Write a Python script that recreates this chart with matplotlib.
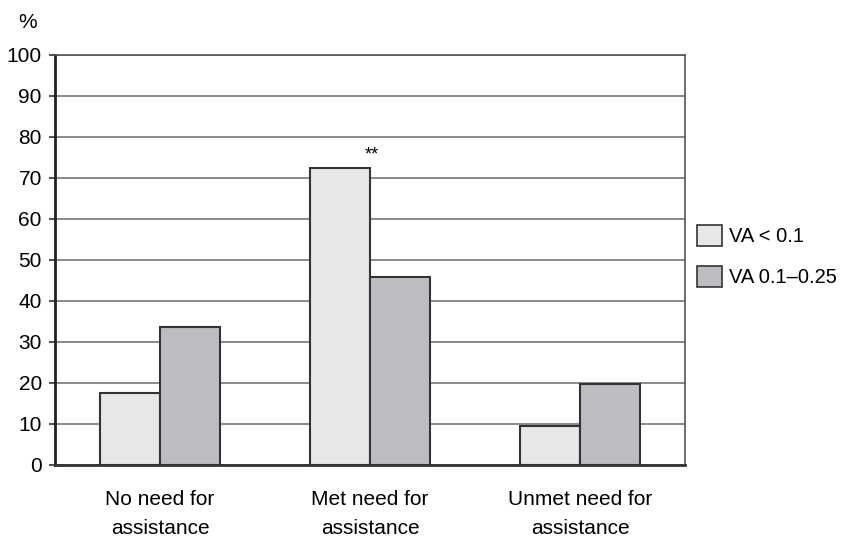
import numpy as np
import matplotlib
matplotlib.use('Agg')
import matplotlib.pyplot as plt
from matplotlib.patches import Patch

plt.rcParams['font.family'] = ['Liberation Sans', 'DejaVu Sans']

categories = ['No need for\nassistance', 'Met need for\nassistance', 'Unmet need for\nassistance']
va_low = [17.6, 72.5, 9.5]
va_mid = [33.6, 45.8, 19.8]
series_names = ['VA < 0.1', 'VA 0.1\u20130.25']
yticks = np.arange(0, 101, 10)

light = '#e6e7e9'
dark = '#bcbdc0'
edge = '#333333'

fig = plt.figure(figsize=(8.43, 5.39), dpi=100)
ax = fig.add_axes([0.0652, 0.1373, 0.8126 - 0.0652, 0.898 - 0.1373])

x = np.arange(len(categories)) + 0.5
w = 60 / 210
ax.bar(x - w / 2, va_low, w, color=light, edgecolor=edge, linewidth=1.5, zorder=3)
ax.bar(x + w / 2, va_mid, w, color=dark, edgecolor=edge, linewidth=1.5, zorder=3)

ax.text(x[1] + 0.01, 73.6, '**', ha='center', va='bottom', fontsize=13)

ax.set_xlim(0, 3)
ax.set_ylim(0, 100)
ax.set_yticks(yticks)
ax.tick_params(axis='y', direction='out', length=4.5, width=1.5, color='#555555', labelsize=15, pad=5)
ax.set_xticks(x)
ax.set_xticklabels(categories, fontsize=15, linespacing=1.7)
ax.tick_params(axis='x', length=0, pad=18)
ax.yaxis.grid(True, color='#777777', linewidth=1.2, zorder=0)

for s in ['top', 'right']:
    ax.spines[s].set_color('#555555')
    ax.spines[s].set_linewidth(1.2)
ax.spines['left'].set_linewidth(2)
ax.spines['left'].set_color('#222222')
ax.spines['bottom'].set_linewidth(2)
ax.spines['bottom'].set_color('#333333')

fig.text(28 / 843, 1 - 23 / 539, '%', ha='center', va='center', fontsize=15)

handles = [Patch(facecolor=light, edgecolor=edge, linewidth=1.2),
           Patch(facecolor=dark, edgecolor=edge, linewidth=1.2)]
fig.legend(handles, series_names, loc='center left', bbox_to_anchor=(697 / 843, 1 - 256 / 539),
           frameon=False, fontsize=14.5, handlelength=1.25, handleheight=1.25,
           handletextpad=0.35, labelspacing=1.0, borderaxespad=0, borderpad=0)

fig.savefig('out.png', dpi=100)
plt.close(fig)
